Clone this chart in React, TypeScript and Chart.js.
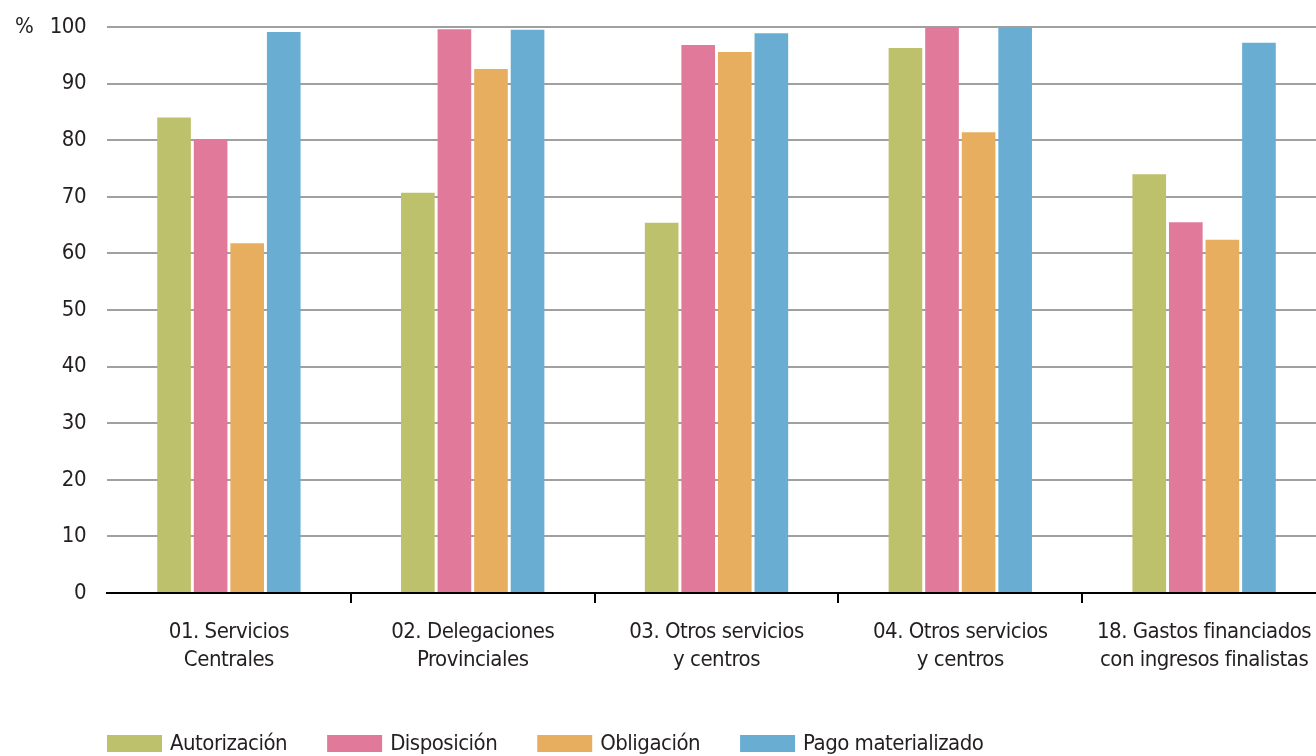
import React, { useEffect, useRef } from 'react';
import { Chart, registerables } from 'chart.js';

Chart.register(...registerables);

const categories: string[][] = [
  ['01. Servicios', 'Centrales'],
  ['02. Delegaciones', 'Provinciales'],
  ['03. Otros servicios', 'y centros'],
  ['04. Otros servicios', 'y centros'],
  ['18. Gastos financiados', 'con ingresos finalistas'],
];

const seriesNames = ['Autorización', 'Disposición', 'Obligación', 'Pago materializado'];

const autorizacion = [84.0, 70.7, 65.4, 96.3, 74.0];
const disposicion = [80.2, 99.6, 96.8, 100.0, 65.5];
const obligacion = [61.8, 92.6, 95.6, 81.4, 62.4];
const pagoMaterializado = [99.1, 99.5, 98.9, 100.0, 97.2];

const yMin = 0;
const yMax = 100;
const yStep = 10;
const unitLabel = '%';

const colors = ['#BEC16C', '#E17A9A', '#E8AE60', '#69AED2'];

const FONT_FAMILY = "'Liberation Sans Narrow', 'DejaVu Sans Condensed', 'Roboto', sans-serif";
const FONT_SIZE = 22;
const LETTER_SPACING = '-0.5px';
const TEXT = '#231f20';

const spacingPlugin = {
  id: 'spacing',
  beforeUpdate(chart: any) {
    chart.ctx.letterSpacing = LETTER_SPACING;
  },
  beforeDraw(chart: any) {
    chart.ctx.letterSpacing = LETTER_SPACING;
  },
};

const overlayPlugin = {
  id: 'overlay',
  afterDraw(chart: any) {
    const ctx = chart.ctx;
    const area = chart.chartArea;
    ctx.save();
    ctx.letterSpacing = LETTER_SPACING;
    ctx.font = `${FONT_SIZE}px ${FONT_FAMILY}`;
    ctx.fillStyle = TEXT;
    ctx.textBaseline = 'middle';
    ctx.textAlign = 'left';
    ctx.fillText(unitLabel, 15, chart.scales.y.getPixelForValue(yMax));
    let x = area.left;
    const boxY = 735;
    chart.data.datasets.forEach((ds: any) => {
      ctx.fillStyle = ds.backgroundColor;
      ctx.fillRect(x, boxY, 55, 17);
      ctx.fillStyle = TEXT;
      ctx.fillText(ds.label, x + 63, boxY + 9);
      x += 63 + ctx.measureText(ds.label).width + 40;
    });
    ctx.restore();
  },
};

export default function App() {
  const ref = useRef<HTMLCanvasElement | null>(null);

  useEffect(() => {
    if (!ref.current) return;
    const seriesValues = [autorizacion, disposicion, obligacion, pagoMaterializado];
    const chart = new Chart(ref.current, {
      type: 'bar',
      data: {
        labels: categories as any,
        datasets: seriesNames.map((name, i) => ({
          label: name,
          data: seriesValues[i],
          backgroundColor: colors[i],
          borderWidth: 0,
          categoryPercentage: 0.6,
          barPercentage: 0.92,
        })),
      },
      options: {
        responsive: false,
        animation: false,
        layout: { padding: { top: 27, left: 0, right: 0, bottom: 0 } },
        plugins: {
          legend: { display: false },
          tooltip: { enabled: false },
        },
        scales: {
          x: {
            afterFit: (scale: any) => {
              scale.height = 163;
              scale.paddingLeft = 0;
              scale.paddingRight = 0;
            },
            border: { display: true, color: '#000', width: 2 },
            grid: {
              offset: true,
              drawOnChartArea: false,
              drawTicks: true,
              tickLength: 10,
              lineWidth: 2,
              color: (c: any) => (c.index === 0 ? 'rgba(0,0,0,0)' : '#000'),
            },
            ticks: {
              color: TEXT,
              padding: 15,
              maxRotation: 0,
              autoSkip: false,
              font: { family: FONT_FAMILY, size: FONT_SIZE, lineHeight: 1.27 },
            },
          },
          y: {
            min: yMin,
            max: yMax,
            afterFit: (scale: any) => {
              scale.width = 107;
              scale.paddingTop = 0;
              scale.paddingBottom = 0;
            },
            border: { display: false },
            grid: {
              color: '#a0a0a0',
              lineWidth: 2,
              drawTicks: false,
            },
            ticks: {
              stepSize: yStep,
              padding: 21,
              color: TEXT,
              font: { family: FONT_FAMILY, size: FONT_SIZE },
            },
          },
        },
      },
      plugins: [spacingPlugin, overlayPlugin],
    });
    return () => chart.destroy();
  }, []);

  return (
    <div
      style={{
        position: 'fixed',
        left: 0,
        top: 0,
        width: 1316,
        height: 756,
        overflow: 'hidden',
        background: '#fff',
      }}
    >
      <canvas ref={ref} width={1326} height={756} style={{ display: 'block' }} />
    </div>
  );
}
